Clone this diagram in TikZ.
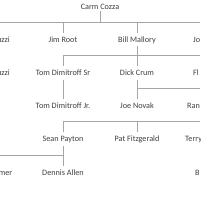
\documentclass[tikz,border=0pt]{standalone}
\usepackage{fontspec}
\setmainfont{Carlito}
\definecolor{txt}{HTML}{404040}
\definecolor{ln}{HTML}{A6A6A6}
\begin{document}
\begin{tikzpicture}[x=1pt,y=-1pt,
  person/.style={font=\fontsize{8.2}{10}\selectfont, text=txt, text height=5.3pt, text depth=0pt, inner xsep=1pt, inner ysep=4pt},
  link/.style={draw=ln, line width=0.8pt}]
\useasboundingbox (0,0) rectangle (200,200);
\fill[white] (0,0) rectangle (200,200);
% rows
\node[person, inner ysep=1.3pt] (carm) at (100,6.5) {Carm Cozza};
\node[person] (jim) at (63,39.5) {Jim Root};
\node[person] (bill) at (137,39.5) {Bill Mallory};
\node[person] (tomsr) at (63,72.8) {Tom Dimitroff Sr};
\node[person] (dick) at (137,72.8) {Dick Crum};
\node[person] (tomjr) at (63,106) {Tom Dimitroff Jr.};
\node[person] (joe) at (137,106) {Joe Novak};
\node[person] (sean) at (63,139.2) {Sean Payton};
\node[person] (pat) at (137,139.2) {Pat Fitzgerald};
\node[person] (dennis) at (63,172.5) {Dennis Allen};
% partial names at the edges
\node[person, anchor=east] (uzA) at (11,39.5) {uzzi};
\node[person, anchor=east] (uzB) at (11,72.8) {uzzi};
\node[person, anchor=east] (mer) at (13.5,172.5) {mer};
\node[person, anchor=west] (jo) at (192,39.5) {Jo};
\node[person, anchor=west] (fl) at (192,72.8) {Fl};
\node[person, anchor=west] (ran) at (186,106) {Ran};
\node[person, anchor=west] (terry) at (184,139.2) {Terry};
\node[person, anchor=west] (bb) at (194,172.5) {B};
% free ends
\coordinate (L1) at (0,22);
\coordinate (R1) at (200,22);
\coordinate (R2) at (200,55);
\coordinate (R3) at (200,88.3);
\coordinate (R4) at (200,121.7);
\coordinate (L5) at (0,155);
% connectors
\draw[link] (carm.south) -- (carm.south |- L1);
\draw[link] (L1) -- (R1);
\draw[link] (jim.north) -- (jim.north |- L1);
\draw[link] (bill.north) -- (bill.north |- L1);
\draw[link] (tomsr.north) |- (R2);
\draw[link] (bill.south) -- (dick.north);
\draw[link] (tomsr.south) -- (tomjr.north);
\draw[link] (dick.south) -- (joe.north);
\draw[link] (dick.south |- R3) -- (R3);
\draw[link] (sean.north) |- (R4);
\draw[link] (pat.north) -- (pat.north |- R4);
\draw[link] (sean.south) -- (dennis.north);
\draw[link] (L5) -- (L5 -| sean.south);
\end{tikzpicture}
\end{document}
